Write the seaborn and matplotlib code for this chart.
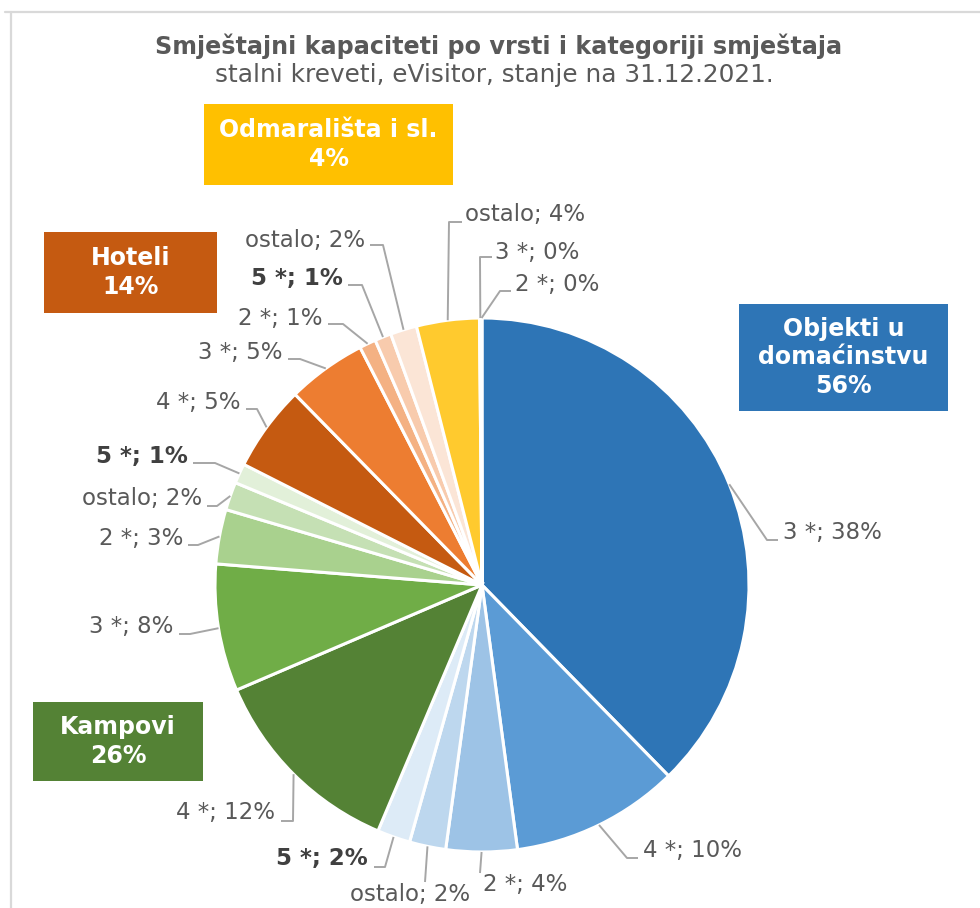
import numpy as np
import matplotlib
matplotlib.use("Agg")
import matplotlib.pyplot as plt
import seaborn as sns
from matplotlib.patches import Rectangle

# slices, clockwise from 12 o'clock
groups = ["Objekti u domaćinstvu"] * 5 + ["Kampovi"] * 5 + ["Hoteli"] * 5 + ["Odmarališta i sl."] * 3
categories = ["3 *", "4 *", "2 *", "ostalo", "5 *",
              "4 *", "3 *", "2 *", "ostalo", "5 *",
              "4 *", "3 *", "2 *", "5 *", "ostalo",
              "ostalo", "3 *", "2 *"]
shares = [37.7, 10.2, 4.3, 2.2, 2.0,
          12.2, 7.7, 3.3, 1.7, 1.2,
          5.2, 4.8, 1.0, 1.0, 1.6,
          3.8, 0.1, 0.05]
pct_labels = ["38%", "10%", "4%", "2%", "2%",
              "12%", "8%", "3%", "2%", "1%",
              "5%", "5%", "1%", "1%", "2%",
              "4%", "0%", "0%"]
slice_colors = ["#2E75B6", "#5B9BD5", "#9DC3E6", "#BDD7EE", "#DDEBF7",
                "#548235", "#70AD47", "#A9D18E", "#C5E0B4", "#E2F0D9",
                "#C55A11", "#ED7D31", "#F4B183", "#F8CBAD", "#FBE5D6",
                "#FFCA2E", "#FFD966", "#FFE699"]

group_names = ["Objekti u\ndomaćinstvu", "Kampovi", "Hoteli", "Odmarališta i sl."]
group_pcts = ["56%", "26%", "14%", "4%"]
group_colors = ["#2E75B6", "#548235", "#C55A11", "#FFC000"]

W, H = 980, 908
CX, CY, R = 482, 585, 267

# label layout in pixels: text x, text y, alignment, leader bend points
label_layout = [
    (783, 532, "left", [(767, 540), (778, 540)]),
    (643, 851, "left", [(627, 858), (638, 858)]),
    (483, 885, "left", [(480, 873)]),
    (410, 895, "center", [(425, 882)]),
    (368, 858, "right", [(385, 867), (374, 867)]),
    (275, 813, "right", [(293, 821), (281, 821)]),
    (173, 627, "right", [(190, 634), (179, 634)]),
    (183, 538, "right", [(198, 545), (188, 545)]),
    (202, 498, "right", [(217, 506), (207, 506)]),
    (188, 456, "right", [(215, 463), (193, 463)]),
    (240, 402, "right", [(257, 409), (246, 409)]),
    (282, 353, "right", [(300, 359), (288, 359)]),
    (322, 318, "right", [(343, 324), (328, 324)]),
    (343, 279, "right", [(362, 285), (348, 285)]),
    (365, 241, "right", [(383, 245), (370, 245)]),
    (465, 215, "left", [(449, 222), (462, 222)]),
    (495, 252, "left", [(480, 257), (492, 257)]),
    (515, 285, "left", [(500, 291), (511, 291)]),
]

box_layout = [(739, 304, 209, 107), (33, 702, 170, 79), (44, 232, 173, 81), (204, 104, 249, 81)]

sns.set_theme(style="white")
plt.rcParams["font.family"] = ["DejaVu Sans"]


def fy(py):
    return H - py


fig = plt.figure(figsize=(W / 100, H / 100), dpi=100)
ax = fig.add_axes([0, 0, 1, 1])

wedges, _ = ax.pie(shares, colors=sns.color_palette(slice_colors), startangle=90,
                   counterclock=False, center=(CX, fy(CY)), radius=R,
                   wedgeprops=dict(edgecolor="white", linewidth=2.2))
ax.set_xlim(0, W)
ax.set_ylim(0, H)
ax.set_aspect("equal")
ax.axis("off")

for w, cat, pct, (tx, ty, ha, bends) in zip(wedges, categories, pct_labels, label_layout):
    mid = np.deg2rad((w.theta1 + w.theta2) / 2)
    ax_x = CX + R * np.cos(mid)
    ax_y = fy(CY) + R * np.sin(mid)
    xs = [ax_x] + [b[0] for b in bends]
    ys = [ax_y] + [fy(b[1]) for b in bends]
    ax.plot(xs, ys, color="#A6A6A6", lw=1.4, solid_capstyle="butt")
    bold = cat == "5 *"
    ax.text(tx, fy(ty), f"{cat}; {pct}", ha=ha, va="center", fontsize=16.5,
            fontweight="bold" if bold else "normal",
            color="#404040" if bold else "#595959")

for name, pct, col, (bx, by, bw, bh) in zip(group_names, group_pcts, group_colors, box_layout):
    ax.add_patch(Rectangle((bx, fy(by + bh)), bw, bh, facecolor=col, edgecolor="none"))
    ax.text(bx + bw / 2, fy(by + bh / 2), f"{name}\n{pct}", ha="center", va="center",
            fontsize=17, fontweight="bold", color="white", linespacing=1.25)

# chart frame (top and left edges visible)
ax.plot([5, W], [fy(12), fy(12)], color="#D9D9D9", lw=1.6)
ax.plot([10.5, 10.5], [fy(12), 0], color="#D9D9D9", lw=1.6)

ax.text(499, fy(46), "Smještajni kapaciteti po vrsti i kategoriji smještaja", ha="center",
        va="center", fontsize=17.2, fontweight="bold", color="#595959")
ax.text(494, fy(75), "stalni kreveti, eVisitor, stanje na 31.12.2021.", ha="center",
        va="center", fontsize=17.8, color="#595959")

fig.savefig("out.png", dpi=100, facecolor="white")
